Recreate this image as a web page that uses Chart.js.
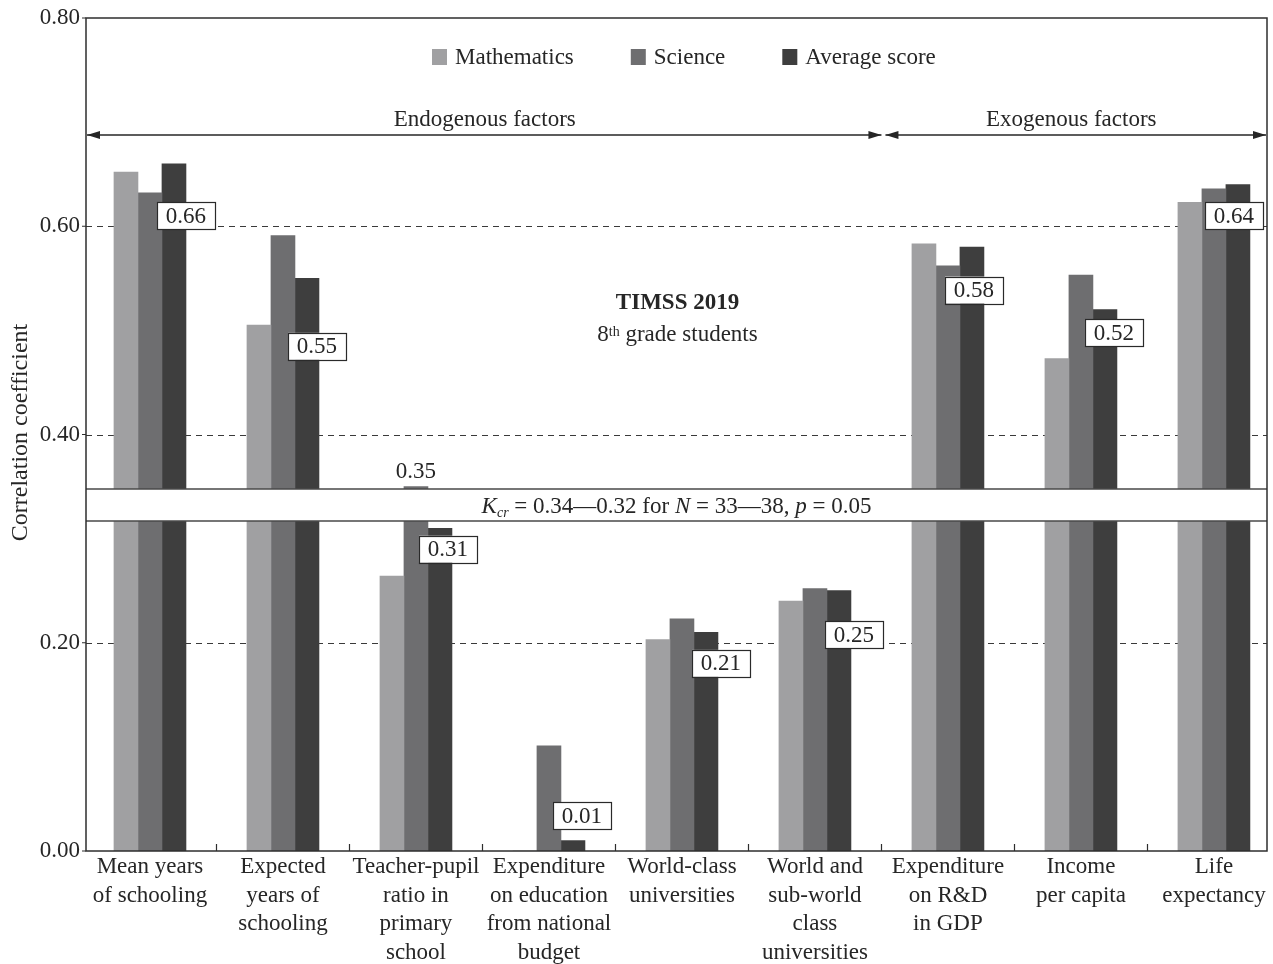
<!DOCTYPE html>
<html>
<head>
<meta charset="utf-8">
<script src="https://cdn.jsdelivr.net/npm/chart.js@4.4.1/dist/chart.umd.min.js"></script>
<style>
  html, body { margin: 0; padding: 0; background: #ffffff; }
  #wrap { width: 1273px; height: 964px; }
</style>
</head>
<body>
<div id="wrap"><canvas id="chart" width="1273" height="964"></canvas></div>
<script>
// ---- data ----
const categories = [
  ["Mean years", "of schooling"],
  ["Expected", "years of", "schooling"],
  ["Teacher-pupil", "ratio in", "primary", "school"],
  ["Expenditure", "on education", "from national", "budget"],
  ["World-class", "universities"],
  ["World and", "sub-world", "class", "universities"],
  ["Expenditure", "on R&D", "in GDP"],
  ["Income", "per capita"],
  ["Life", "expectancy"]
];
const seriesNames = ["Mathematics", "Science", "Average score"];
const mathematics  = [0.652, 0.505, 0.264, 0.000, 0.203, 0.240, 0.583, 0.473, 0.623];
const science      = [0.632, 0.591, 0.350, 0.101, 0.223, 0.252, 0.562, 0.553, 0.636];
const averageScore = [0.66, 0.55, 0.31, 0.01, 0.21, 0.25, 0.58, 0.52, 0.64];
const yTicks = [0.00, 0.20, 0.40, 0.60, 0.80];
const groupNames = ["Endogenous factors", "Exogenous factors"];
const endogenousCount = 6;            // first six categories are endogenous
const kcrRange = [0.34, 0.32];        // critical correlation values
const sampleRange = [33, 38];
const pLevel = 0.05;
const scienceNoteIndex = 2;           // science value written above its bar

// ---- look & layout ----
const FONT = '"Liberation Serif", "Times New Roman", Times, serif';
const INK = '#262626';
const COLORS = ['#a0a0a2', '#6e6e70', '#3e3e3e'];
const FS = 23;
// x range of the linear index axis (category i sits at value i)
const X_MIN = -0.481, X_MAX = 8.399;
// value box offsets (px) from the top centre of each average-score bar
const boxOffsets = [[12, 52], [10, 68], [8, 21], [9, -25], [15, 31], [15, 44], [2, 43], [9, 23], [-4, 31]];

function font(size, style, weight) {
  return (style || '') + ' ' + (weight || '') + ' ' + size + 'px ' + FONT;
}

function drawArrowHead(ctx, x, y, dir) {
  ctx.beginPath();
  ctx.moveTo(x, y);
  ctx.lineTo(x - dir * 13, y - 4);
  ctx.lineTo(x - dir * 13, y + 4);
  ctx.closePath();
  ctx.fill();
}

function drawDoubleArrow(ctx, x1, x2, y) {
  ctx.beginPath();
  ctx.moveTo(x1, y);
  ctx.lineTo(x2, y);
  ctx.stroke();
  drawArrowHead(ctx, x1, y, -1);
  drawArrowHead(ctx, x2, y, 1);
}

function drawRichText(ctx, segments, cx, cy) {
  const measured = segments.map(s => {
    ctx.font = font(s.sub ? 14 : FS, s.italic ? 'italic' : '');
    return ctx.measureText(s.t).width;
  });
  const total = measured.reduce((a, b) => a + b, 0);
  let x = cx - total / 2;
  ctx.textAlign = 'left';
  ctx.textBaseline = 'alphabetic';
  segments.forEach((s, i) => {
    ctx.font = font(s.sub ? 14 : FS, s.italic ? 'italic' : '');
    ctx.fillText(s.t, x, cy + (s.sub ? 4 : 0) + (s.sup ? -9 : 0));
    x += measured[i];
  });
}

const decor = {
  id: 'decor',
  beforeDatasetsDraw(chart) {
    const { ctx, chartArea: a, scales: { y } } = chart;
    ctx.save();
    ctx.strokeStyle = '#3a3a3a';
    ctx.lineWidth = 1;
    ctx.setLineDash([6, 5]);
    yTicks.slice(1, -1).forEach(v => {
      const py = Math.round(y.getPixelForValue(v)) + 0.5;
      ctx.beginPath();
      ctx.moveTo(a.left, py);
      ctx.lineTo(a.right, py);
      ctx.stroke();
    });
    ctx.restore();
  },
  afterDatasetsDraw(chart) {
    const { ctx, chartArea: a, scales: { x, y } } = chart;
    ctx.save();
    ctx.fillStyle = INK;
    ctx.strokeStyle = INK;

    // critical value band
    const bandMid = y.getPixelForValue((kcrRange[0] + kcrRange[1]) / 2) - 2;
    const bTop = Math.round(bandMid - 16), bBot = Math.round(bandMid + 16);
    ctx.fillStyle = '#ffffff';
    ctx.fillRect(a.left, bTop, a.right - a.left, bBot - bTop);
    ctx.strokeStyle = '#4a4a4a';
    ctx.lineWidth = 1.5;
    ctx.beginPath();
    ctx.moveTo(a.left, bTop); ctx.lineTo(a.right, bTop);
    ctx.moveTo(a.left, bBot); ctx.lineTo(a.right, bBot);
    ctx.stroke();
    ctx.fillStyle = INK;
    drawRichText(ctx, [
      { t: 'K', italic: true },
      { t: 'cr', italic: true, sub: true },
      { t: ' = ' + kcrRange[0].toFixed(2) + '\u2014' + kcrRange[1].toFixed(2) + ' for ' },
      { t: 'N', italic: true },
      { t: ' = ' + sampleRange[0] + '\u2014' + sampleRange[1] + ', ' },
      { t: 'p', italic: true },
      { t: ' = ' + pLevel.toFixed(2) }
    ], (a.left + a.right) / 2, bandMid + 8);

    // science value note above its bar
    const sBar = chart.getDatasetMeta(1).data[scienceNoteIndex];
    ctx.font = font(FS);
    ctx.textAlign = 'center';
    ctx.textBaseline = 'middle';
    ctx.fillText(science[scienceNoteIndex].toFixed(2), sBar.x, sBar.y - 15);

    // average score value boxes
    const avgMeta = chart.getDatasetMeta(2);
    avgMeta.data.forEach((bar, i) => {
      const cx = bar.x + boxOffsets[i][0];
      const cy = bar.y + boxOffsets[i][1];
      const w = 58, h = 27;
      ctx.fillStyle = '#ffffff';
      ctx.fillRect(cx - w / 2, cy - h / 2, w, h);
      ctx.strokeStyle = '#2a2a2a';
      ctx.lineWidth = 1.2;
      ctx.strokeRect(Math.round(cx - w / 2) + 0.5, Math.round(cy - h / 2) + 0.5, w, h);
      ctx.fillStyle = INK;
      ctx.font = font(FS);
      ctx.textAlign = 'center';
      ctx.textBaseline = 'middle';
      ctx.fillText(averageScore[i].toFixed(2), cx, cy + 1);
    });

    // legend
    ctx.font = font(FS);
    ctx.textAlign = 'left';
    ctx.textBaseline = 'middle';
    let lx = 432;
    const ly = 57;
    seriesNames.forEach((name, i) => {
      ctx.fillStyle = COLORS[i];
      ctx.fillRect(lx, ly - 8, 15, 16);
      ctx.fillStyle = INK;
      ctx.fillText(name, lx + 23, ly + 1);
      lx += 23 + ctx.measureText(name).width + 57;
    });

    // factor group arrows
    const split = x.getPixelForValue(endogenousCount - 0.5) + 2;
    const ay = 135;
    ctx.strokeStyle = INK;
    ctx.fillStyle = INK;
    ctx.lineWidth = 1.3;
    drawDoubleArrow(ctx, a.left + 1, split - 2, ay);
    drawDoubleArrow(ctx, split + 2, a.right - 1, ay);
    ctx.font = font(FS);
    ctx.textAlign = 'center';
    ctx.textBaseline = 'alphabetic';
    ctx.fillText(groupNames[0], (a.left + split) / 2, ay - 9);
    ctx.fillText(groupNames[1], (split + a.right) / 2 - 4, ay - 9);

    // study caption
    const mid = (a.left + a.right) / 2 + 1;
    ctx.font = font(FS, '', 'bold');
    ctx.textAlign = 'center';
    ctx.fillText('TIMSS 2019', mid, 309);
    drawRichText(ctx, [
      { t: '8' },
      { t: 'th', sup: true, sub: true },
      { t: ' grade students' }
    ], mid, 341);

    // axis title
    ctx.save();
    ctx.translate(21, (a.top + a.bottom) / 2 - 2);
    ctx.rotate(-Math.PI / 2);
    ctx.font = font(24);
    ctx.textAlign = 'center';
    ctx.textBaseline = 'middle';
    ctx.fillStyle = INK;
    ctx.fillText('Correlation coefficient', 0, 0);
    ctx.restore();

    // frame, y tick marks, category separators
    ctx.strokeStyle = '#2e2e2e';
    ctx.lineWidth = 1.5;
    ctx.setLineDash([]);
    ctx.strokeRect(a.left, a.top, a.right - a.left, a.bottom - a.top);
    ctx.lineWidth = 1.2;
    ctx.beginPath();
    yTicks.forEach(v => {
      const py = y.getPixelForValue(v);
      ctx.moveTo(a.left - 4, py);
      ctx.lineTo(a.left, py);
    });
    for (let i = 0; i < categories.length - 1; i++) {
      const px = Math.round(x.getPixelForValue(i + 0.5)) + 0.5;
      ctx.moveTo(px, a.bottom);
      ctx.lineTo(px, a.bottom - 7);
    }
    ctx.stroke();
    ctx.restore();
  }
};

const toPoints = arr => arr.map((v, i) => ({ x: i, y: v }));

new Chart(document.getElementById('chart'), {
  type: 'bar',
  data: {
    datasets: [
      { label: seriesNames[0], data: toPoints(mathematics), backgroundColor: COLORS[0] },
      { label: seriesNames[1], data: toPoints(science), backgroundColor: COLORS[1] },
      { label: seriesNames[2], data: toPoints(averageScore), backgroundColor: COLORS[2] }
    ]
  },
  options: {
    responsive: false,
    animation: false,
    devicePixelRatio: 1,
    layout: { padding: { top: 18, right: 6, left: 0, bottom: 0 } },
    datasets: { bar: { barThickness: 24, borderWidth: 0 } },
    plugins: { legend: { display: false }, tooltip: { enabled: false } },
    scales: {
      x: {
        type: 'linear',
        min: X_MIN,
        max: X_MAX,
        offset: false,
        grid: { display: false, drawTicks: false },
        border: { display: false },
        afterBuildTicks: s => { s.ticks = categories.map((_, i) => ({ value: i })); },
        afterFit: s => { s.height = 113; s.paddingLeft = 0; s.paddingRight = 0; },
        ticks: {
          autoSkip: false, maxRotation: 0, minRotation: 0, padding: 2,
          color: INK,
          font: { family: FONT, size: FS, lineHeight: 1.24 },
          callback: v => categories[v]
        }
      },
      y: {
        min: 0,
        max: 0.8,
        grid: { display: false, drawTicks: false },
        border: { display: false },
        afterBuildTicks: s => { s.ticks = yTicks.map(v => ({ value: v })); },
        afterFit: s => { s.width = 86; s.paddingTop = 0; s.paddingBottom = 0; },
        ticks: {
          padding: 6,
          color: INK,
          font: { family: FONT, size: FS },
          callback: v => Number(v).toFixed(2)
        }
      }
    }
  },
  plugins: [decor]
});
</script>
</body>
</html>
